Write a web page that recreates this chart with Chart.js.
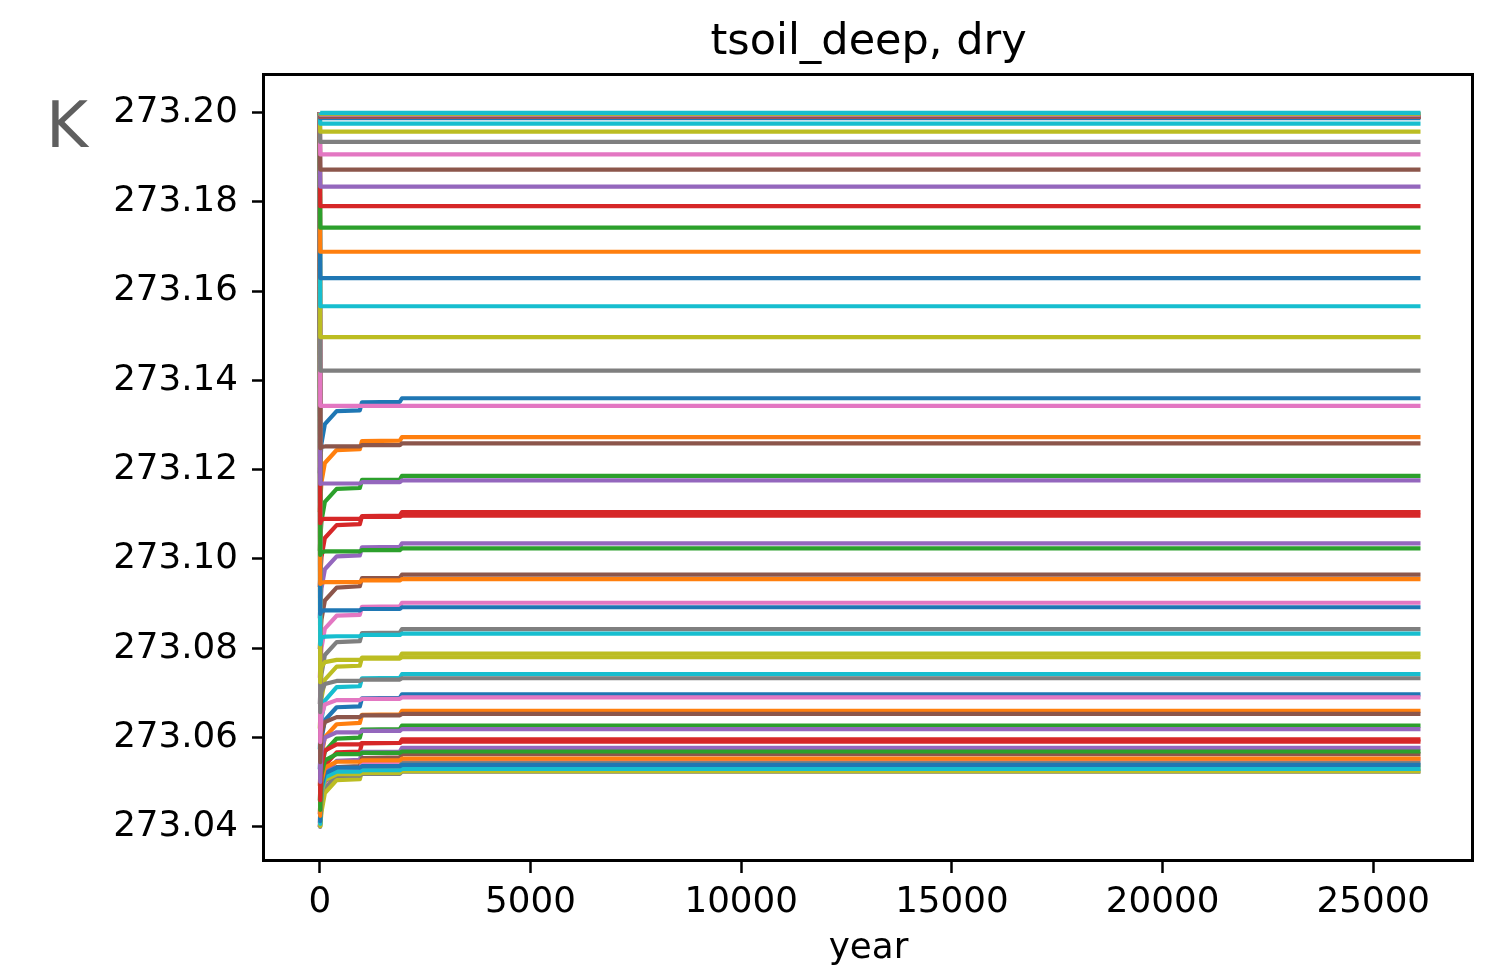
<!DOCTYPE html>
<html>
<head>
<meta charset="utf-8">
<title>tsoil_deep, dry</title>
<script src="https://cdn.jsdelivr.net/npm/chart.js@4.4.1/dist/chart.umd.min.js"></script>
<style>
    html, body { margin: 0; padding: 0; background: #fff; }
    #wrap { width: 1486px; height: 971px; }
</style>
</head>
<body>
<div id="wrap"><canvas id="soilChart" width="1486" height="971"></canvas></div>
<script>
// Years at which the series are sampled
const settleYears = [0, 10, 40, 120, 400, 950, 1000, 1900, 1950, 26120];
const dropYears = [0, 10, 26120];
const startTemp = 273.20;

// Lines that warm up from below (plotted first, colours from blue)
const riseSeries = [
    [273.1192, 273.1215, 273.1259, 273.1302, 273.1331, 273.1333, 273.1351, 273.1352, 273.1360, 273.1360],
    [273.1105, 273.1127, 273.1172, 273.1215, 273.1244, 273.1246, 273.1264, 273.1265, 273.1273, 273.1273],
    [273.1018, 273.1041, 273.1085, 273.1128, 273.1157, 273.1159, 273.1177, 273.1178, 273.1186, 273.1186],
    [273.0937, 273.0959, 273.1004, 273.1047, 273.1076, 273.1078, 273.1096, 273.1097, 273.1105, 273.1105],
    [273.0867, 273.0889, 273.0934, 273.0977, 273.1006, 273.1008, 273.1026, 273.1027, 273.1035, 273.1035],
    [273.0798, 273.0820, 273.0865, 273.0907, 273.0936, 273.0939, 273.0957, 273.0958, 273.0965, 273.0965],
    [273.0734, 273.0756, 273.0801, 273.0844, 273.0873, 273.0875, 273.0893, 273.0894, 273.0902, 273.0902],
    [273.0675, 273.0698, 273.0742, 273.0785, 273.0814, 273.0816, 273.0834, 273.0835, 273.0843, 273.0843],
    [273.0620, 273.0643, 273.0688, 273.0730, 273.0759, 273.0761, 273.0779, 273.0780, 273.0788, 273.0788],
    [273.0574, 273.0596, 273.0641, 273.0683, 273.0713, 273.0715, 273.0733, 273.0734, 273.0742, 273.0742],
    [273.0529, 273.0551, 273.0596, 273.0639, 273.0668, 273.0670, 273.0688, 273.0689, 273.0697, 273.0697],
    [273.0492, 273.0514, 273.0559, 273.0601, 273.0630, 273.0633, 273.0651, 273.0652, 273.0660, 273.0660],
    [273.0459, 273.0481, 273.0526, 273.0569, 273.0598, 273.0600, 273.0618, 273.0619, 273.0627, 273.0627],
    [273.0428, 273.0450, 273.0495, 273.0538, 273.0567, 273.0569, 273.0587, 273.0588, 273.0596, 273.0596],
    [273.0409, 273.0431, 273.0476, 273.0519, 273.0548, 273.0550, 273.0568, 273.0569, 273.0577, 273.0577],
    [273.0400, 273.0418, 273.0463, 273.0505, 273.0534, 273.0536, 273.0554, 273.0556, 273.0563, 273.0563],
    [273.0400, 273.0411, 273.0451, 273.0494, 273.0523, 273.0525, 273.0543, 273.0544, 273.0552, 273.0552],
    [273.0400, 273.0407, 273.0443, 273.0485, 273.0514, 273.0516, 273.0534, 273.0535, 273.0543, 273.0543],
    [273.0400, 273.0402, 273.0434, 273.0476, 273.0505, 273.0507, 273.0525, 273.0526, 273.0534, 273.0534]
];

// Lines that fall below their final value in the first step, then recover (colours from gray)
const dipSeries = [
    [273.2000, 273.0400, 273.0473, 273.0503, 273.0515, 273.0515, 273.0519, 273.0519, 273.0524, 273.0524],
    [273.2000, 273.0402, 273.0476, 273.0505, 273.0518, 273.0518, 273.0521, 273.0521, 273.0525, 273.0525],
    [273.2000, 273.0407, 273.0481, 273.0511, 273.0524, 273.0524, 273.0527, 273.0527, 273.0530, 273.0530],
    [273.2000, 273.0413, 273.0489, 273.0520, 273.0533, 273.0533, 273.0536, 273.0536, 273.0539, 273.0539],
    [273.2000, 273.0425, 273.0502, 273.0533, 273.0546, 273.0546, 273.0549, 273.0549, 273.0553, 273.0553],
    [273.2000, 273.0438, 273.0517, 273.0549, 273.0563, 273.0563, 273.0566, 273.0566, 273.0569, 273.0569],
    [273.2000, 273.0460, 273.0539, 273.0571, 273.0585, 273.0585, 273.0588, 273.0588, 273.0591, 273.0591],
    [273.2000, 273.0501, 273.0571, 273.0600, 273.0612, 273.0612, 273.0615, 273.0615, 273.0619, 273.0619],
    [273.2000, 273.0545, 273.0610, 273.0635, 273.0646, 273.0646, 273.0650, 273.0650, 273.0653, 273.0653],
    [273.2000, 273.0590, 273.0650, 273.0674, 273.0684, 273.0684, 273.0687, 273.0687, 273.0690, 273.0690],
    [273.2000, 273.0657, 273.0703, 273.0720, 273.0727, 273.0727, 273.0730, 273.0730, 273.0733, 273.0733],
    [273.2000, 273.0724, 273.0758, 273.0769, 273.0774, 273.0774, 273.0777, 273.0777, 273.0780, 273.0780],
    [273.2000, 273.0809, 273.0824, 273.0826, 273.0827, 273.0827, 273.0830, 273.0830, 273.0833, 273.0833],
    [273.2000, 273.0877, 273.0884, 273.0885, 273.0885, 273.0885, 273.0888, 273.0888, 273.0892, 273.0892],
    [273.2000, 273.0944, 273.0947, 273.0948, 273.0948, 273.0948, 273.0952, 273.0952, 273.0955, 273.0955],
    [273.2000, 273.1009, 273.1015, 273.1017, 273.1017, 273.1017, 273.1020, 273.1020, 273.1024, 273.1024],
    [273.2000, 273.1080, 273.1088, 273.1090, 273.1090, 273.1090, 273.1094, 273.1094, 273.1097, 273.1097],
    [273.2000, 273.1168, 273.1169, 273.1169, 273.1169, 273.1169, 273.1172, 273.1172, 273.1176, 273.1176],
    [273.2000, 273.1248, 273.1251, 273.1252, 273.1252, 273.1252, 273.1255, 273.1255, 273.1259, 273.1259]
];

// Lines that drop straight from the start value to their final value (colours from pink)
const dropFinals = [273.1343, 273.1422, 273.1497, 273.1566, 273.1629, 273.1688, 273.1742, 273.1790,
    273.1834, 273.1872, 273.1906, 273.1934, 273.1957, 273.1975, 273.1987, 273.1990, 273.1990, 273.1990,
    273.1991, 273.1991, 273.1995, 273.1996, 273.1997, 273.1999];

const xTickValues = [0, 5000, 10000, 15000, 20000, 25000];
const yTickValues = [273.04, 273.06, 273.08, 273.10, 273.12, 273.14, 273.16, 273.18, 273.20];

const tab10 = ['#1f77b4', '#ff7f0e', '#2ca02c', '#d62728', '#9467bd',
    '#8c564b', '#e377c2', '#7f7f7f', '#bcbd22', '#17becf'];

const datasets = [];
function addLine(years, values, color) {
    datasets.push({
        data: years.map((x, i) => ({ x: x, y: values[i] })),
        borderColor: color,
        backgroundColor: color,
        borderWidth: 4.2,
        pointRadius: 0,
        tension: 0
    });
}
riseSeries.forEach((vals, i) => addLine(settleYears, vals, tab10[i % 10]));
dipSeries.forEach((vals, i) => addLine(settleYears, vals, tab10[(i + 7) % 10]));
dropFinals.forEach((v, i) => addLine(dropYears, [startTemp, v, v], tab10[(i + 6) % 10]));
// later lines on top, like the original plot
datasets.forEach((d, i) => { d.order = datasets.length - i; });

const tickFont = { family: 'DejaVu Sans', size: 35.7 };

// Frame, title, unit and axis label
const decorations = {
    id: 'decorations',
    afterDraw(chart) {
        const ctx = chart.ctx;
        const a = chart.chartArea;
        ctx.save();
        ctx.strokeStyle = '#000';
        ctx.lineWidth = 3;
        ctx.strokeRect(a.left - 0.5, a.top + 0.5, a.right - a.left, a.bottom - a.top);
        ctx.fillStyle = '#000';
        ctx.textAlign = 'center';
        ctx.textBaseline = 'alphabetic';
        ctx.font = '43px "DejaVu Sans"';
        ctx.fillText('tsoil_deep, dry', (a.left + a.right) / 2, 54);
        ctx.font = '35.7px "DejaVu Sans"';
        ctx.fillText('year', (a.left + a.right) / 2, 958);
        ctx.fillStyle = '#5f5f5f';
        ctx.textAlign = 'left';
        ctx.font = '64px "DejaVu Sans"';
        ctx.fillText('K', 46, 147);
        ctx.restore();
    }
};

const ctx = document.getElementById('soilChart').getContext('2d');
new Chart(ctx, {
    type: 'line',
    data: { datasets: datasets },
    options: {
        responsive: false,
        animation: false,
        devicePixelRatio: 1,
        layout: { padding: { left: 0, right: 13, top: 74, bottom: 0 } },
        elements: {
            line: { tension: 0, borderWidth: 4.2, borderJoinStyle: 'round', borderCapStyle: 'butt' },
            point: { radius: 0, hoverRadius: 0 }
        },
        plugins: {
            legend: { display: false },
            tooltip: { enabled: false }
        },
        scales: {
            x: {
                type: 'linear',
                min: -1324,
                max: 27366,
                afterBuildTicks: axis => { axis.ticks = xTickValues.map(v => ({ value: v })); },
                afterFit: axis => { axis.height = 111; },
                border: { display: false },
                grid: { drawOnChartArea: false, drawTicks: true, tickLength: 13, tickColor: '#000', tickWidth: 2.5 },
                ticks: { color: '#000', font: tickFont, padding: 8, maxRotation: 0, autoSkip: false,
                    callback: v => String(v) }
            },
            y: {
                type: 'linear',
                min: 273.0326,
                max: 273.2086,
                afterBuildTicks: axis => { axis.ticks = yTickValues.map(v => ({ value: v })); },
                afterFit: axis => { axis.width = 264; },
                border: { display: false },
                grid: { drawOnChartArea: false, drawTicks: true, tickLength: 12, tickColor: '#000', tickWidth: 2.5 },
                ticks: { color: '#000', font: tickFont, padding: 14, autoSkip: false,
                    callback: v => v.toFixed(2) }
            }
        }
    },
    plugins: [decorations]
});
</script>
</body>
</html>
